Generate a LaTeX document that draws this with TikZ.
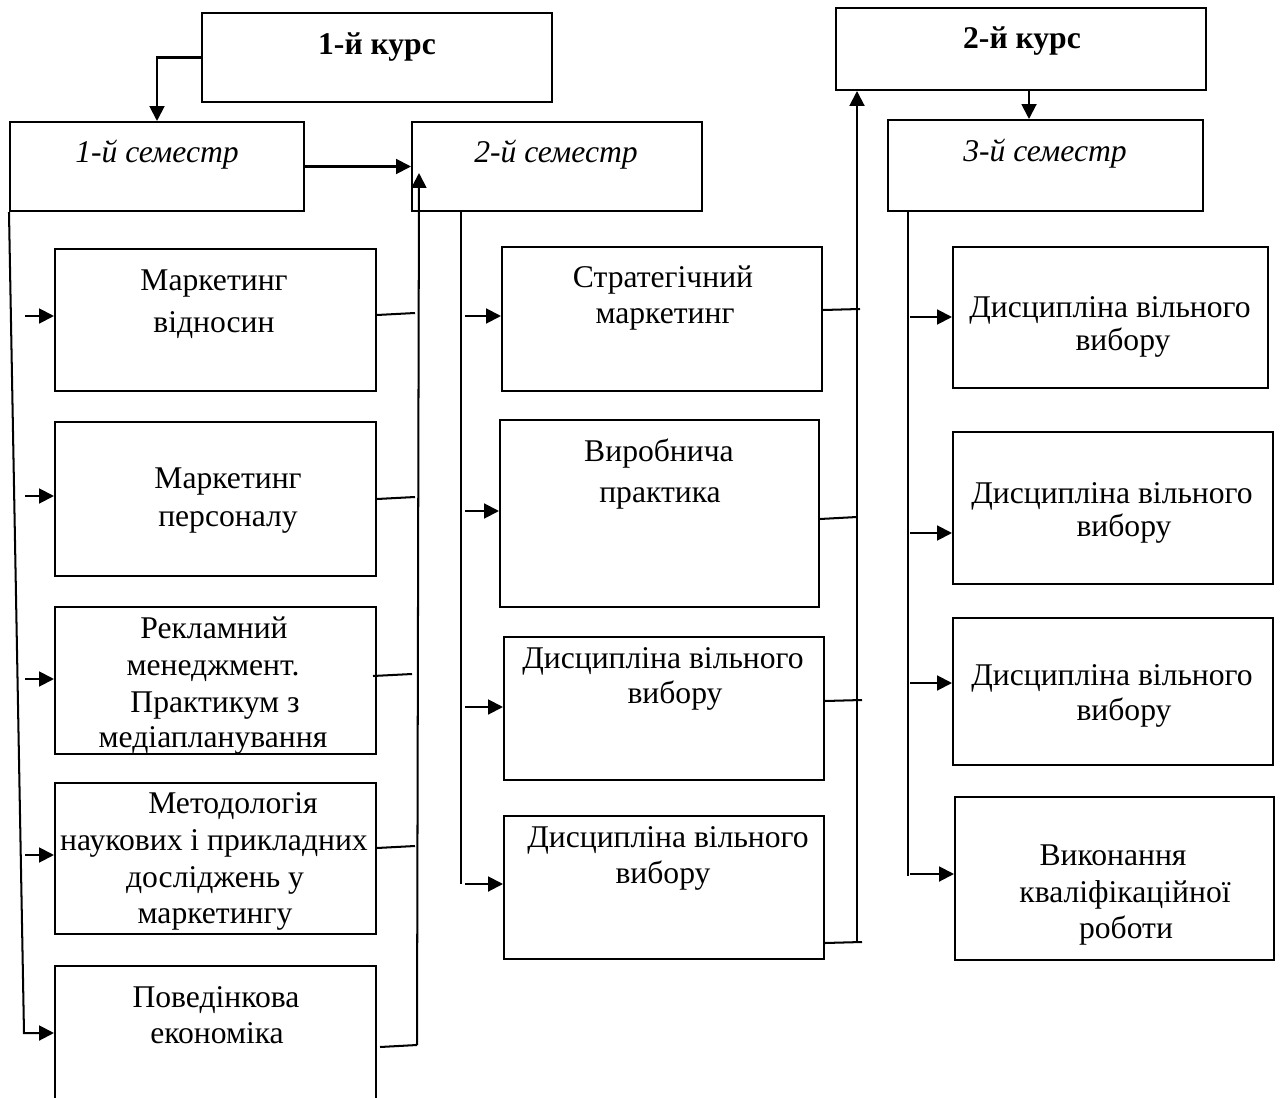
\documentclass[tikz,border=0pt]{standalone}
\usepackage{fontspec}
\setmainfont{Liberation Serif}
\usetikzlibrary{arrows.meta,fit}
\begin{document}
\begin{tikzpicture}[x=0.02cm,y=-0.02cm,
  box/.style={draw, line width=1.15pt, inner sep=0pt},
  txt/.style={inner sep=0pt, anchor=base, font=\fontsize{18}{22}\selectfont},
  ln/.style={line width=1.15pt},
  arr/.style={line width=1.15pt, -{Triangle[length=8.5pt,width=8.5pt]}}]
\useasboundingbox (0,0) rectangle (1281,1098);
\clip (0,0) rectangle (1281,1098);

% ---------- boxes ----------
\node[box, fit={(202,13)(552,102)}] (k1) {};
\node[box, fit={(10,122)(304,211)}] (s1) {};
\node[box, fit={(412,122)(702,211)}] (s2) {};
\node[box, fit={(836,8)(1206,90)}] (k2) {};
\node[box, fit={(888,120)(1203,211)}] (s3) {};

\node[box, fit={(55,249)(376,391)}] (m1) {};
\node[box, fit={(55,422)(376,576)}] (m2) {};
\node[box, fit={(55,607)(376,754)}] (m3) {};
\node[box, fit={(55,783)(376,934)}] (m4) {};
\node[box, fit={(55,966)(376,1130)}] (m5) {};

\node[box, fit={(502,247)(822,391)}] (n1) {};
\node[box, fit={(500,420)(819,607)}] (n2) {};
\node[box, fit={(504,637)(824,780)}] (n3) {};
\node[box, fit={(504,816)(824,959)}] (n4) {};

\node[box, fit={(953,247)(1268,388)}] (o1) {};
\node[box, fit={(953,432)(1273,584)}] (o2) {};
\node[box, fit={(953,618)(1273,765)}] (o3) {};
\node[box, fit={(955,797)(1274,960)}] (o4) {};

% ---------- texts ----------
\node[txt, font=\fontsize{18}{22}\selectfont\bfseries] (tk1) at (377,55) {1-й курс};
\node[txt, font=\fontsize{18}{22}\selectfont\bfseries] (tk2) at (1022,49) {2-й курс};
\node[txt, font=\fontsize{18}{22}\selectfont\itshape] (ts1) at (157,163) {1-й семестр};
\node[txt, font=\fontsize{18}{22}\selectfont\itshape] (ts2) at (556,163) {2-й семестр};
\node[txt, font=\fontsize{18}{22}\selectfont\itshape] (ts3) at (1045,162) {3-й семестр};

\node[txt] (tm1a) at (214,290) {Маркетинг};
\node[txt] (tm1b) at (214,332) {відносин};
\node[txt] (tm2a) at (228,488) {Маркетинг};
\node[txt] (tm2b) at (228,526) {персоналу};
\node[txt] (tm3a) at (214,638) {Рекламний};
\node[txt] (tm3b) at (213,675) {менеджмент.};
\node[txt] (tm3c) at (215,712) {Практикум з};
\node[txt] (tm3d) at (213,747) {медіапланування};
\node[txt] (tm4a) at (233,813) {Методологія};
\node[txt] (tm4b) at (214,850) {наукових і прикладних};
\node[txt] (tm4c) at (215,887) {досліджень у};
\node[txt] (tm4d) at (215,923) {маркетингу};
\node[txt] (tm5a) at (216,1007) {Поведінкова};
\node[txt] (tm5b) at (217,1043) {економіка};

\node[txt] (tn1a) at (663,287) {Стратегічний};
\node[txt] (tn1b) at (665,323) {маркетинг};
\node[txt] (tn2a) at (659,461) {Виробнича};
\node[txt] (tn2b) at (660,502) {практика};
\node[txt] (tn3a) at (663,668) {Дисципліна вільного};
\node[txt] (tn3b) at (675,703) {вибору};
\node[txt] (tn4a) at (668,847) {Дисципліна вільного};
\node[txt] (tn4b) at (663,883) {вибору};

\node[txt] (to1a) at (1110,317) {Дисципліна вільного};
\node[txt] (to1b) at (1123,350) {вибору};
\node[txt] (to2a) at (1112,503) {Дисципліна вільного};
\node[txt] (to2b) at (1124,536) {вибору};
\node[txt] (to3a) at (1112,685) {Дисципліна вільного};
\node[txt] (to3b) at (1124,720) {вибору};
\node[txt] (to4a) at (1113,865) {Виконання};
\node[txt] (to4b) at (1125,902) {кваліфікаційної};
\node[txt] (to4c) at (1126,938) {роботи};

% ---------- connectors ----------
\draw[arr] (k1.west) -| (s1.north);
\draw[arr] (s1.east) -- (s2.west);

% left bus of column 1
\coordinate (lb) at (24,1033);
\draw[arr] (s1.south west) -- (lb) -- (lb -| m5.west);
\coordinate (a1) at (25,316);
\coordinate (a2) at (25,496);
\coordinate (a3) at (25,679);
\coordinate (a4) at (25,855);
\draw[arr] (a1) -- (a1 -| m1.west);
\draw[arr] (a2) -- (a2 -| m2.west);
\draw[arr] (a3) -- (a3 -| m3.west);
\draw[arr] (a4) -- (a4 -| m4.west);

% right bus of column 1
\coordinate (rb1) at (417,1045);
\coordinate (rb2) at (419,173);
\draw[arr] (rb1) -- (rb2);
\coordinate (j1) at (415,313);
\coordinate (j2) at (415,497);
\coordinate (j3) at (412,674);
\coordinate (j4) at (415,846);
\draw[ln] (m1.east |- 0,315) -- (j1);
\draw[ln] (m2.east |- 0,499) -- (j2);
\draw[ln] ([xshift=-0.08cm]m3.east |- 0,676) -- (j3);
\draw[ln] (m4.east |- 0,848) -- (j4);
\draw[ln] ([xshift=0.06cm]m5.east |- 0,1047) -- (rb1);

% left bus of column 2
\coordinate (c2t) at (461,211);
\coordinate (c2b) at (461,884);
\draw[ln] (c2t) -- (c2b);
\coordinate (b1) at (465,316);
\coordinate (b2) at (465,511);
\coordinate (b3) at (465,707);
\coordinate (b4) at (465,884);
\draw[arr] (b1) -- (b1 -| n1.west);
\draw[arr] (b2) -- (b2 -| n2.west);
\draw[arr] (b3) -- (b3 -| n3.west);
\draw[arr] (b4) -- (b4 -| n4.west);

% right bus of column 2
\coordinate (r2b) at (857,942);
\draw[arr] (r2b) -- (r2b |- k2.south);
\coordinate (g1) at (860,309);
\coordinate (g2) at (857,517);
\coordinate (g3) at (862,700);
\coordinate (g4) at (862,942);
\draw[ln] (n1.east |- 0,310) -- (g1);
\draw[ln] (n2.east |- 0,519) -- (g2);
\draw[ln] (n3.east |- 0,701) -- (g3);
\draw[ln] (n4.east |- 0,943) -- (g4);

% 2nd year -> 3rd semester
\coordinate (kk) at (1029,0);
\draw[arr] (kk |- k2.south) -- (kk |- s3.north);

% bus of column 3
\coordinate (c3t) at (908,211);
\coordinate (c3b) at (908,876);
\draw[ln] (c3t) -- (c3b);
\coordinate (d1) at (910,317);
\coordinate (d2) at (910,533);
\coordinate (d3) at (910,683);
\coordinate (d4) at (910,874);
\draw[arr] (d1) -- (d1 -| o1.west);
\draw[arr] (d2) -- (d2 -| o2.west);
\draw[arr] (d3) -- (d3 -| o3.west);
\draw[arr] (d4) -- (d4 -| o4.west);
\end{tikzpicture}
\end{document}
